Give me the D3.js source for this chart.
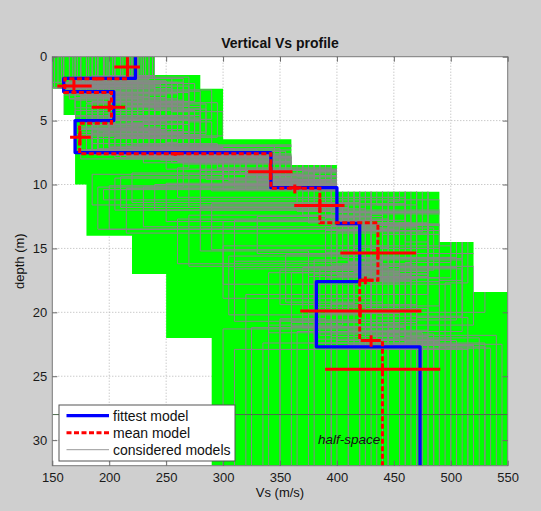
<!DOCTYPE html>
<html>
<head>
<meta charset="utf-8">
<script src="https://cdn.jsdelivr.net/npm/d3@7/dist/d3.min.js"></script>
<style>
  html, body { margin: 0; padding: 0; background: #cfcfcf; }
  svg { display: block; font-family: "Liberation Sans", Arial, Helvetica, sans-serif; }
</style>
</head>
<body>
<svg id="chart" width="541" height="511"></svg>
<script>
// ---- Axis ticks ----
const xTicks = [150, 200, 250, 300, 350, 400, 450, 500, 550];
const yTicks = [0, 5, 10, 15, 20, 25, 30];

// ---- Search bounds (green area): right and left edges as depth intervals ----
const boundRightTop = [0, 1.44, 2.5, 6.46, 8.47, 10.56, 14.5, 18.4];
const boundRightBot = [1.44, 2.5, 6.46, 8.47, 10.56, 14.5, 18.4, 32];
const boundRightVs  = [240, 280, 300, 360, 400, 490, 520, 550];
const boundLeftTop  = [0, 2.5, 4.57, 10.0, 14.0, 17.0, 22.0];
const boundLeftBot  = [2.5, 4.57, 10.0, 14.0, 17.0, 22.0, 32];
const boundLeftVs   = [150, 160, 170, 180, 220, 250, 290];

// ---- Considered models: layer Vs (m/s) and interface depths (m) ----
const consideredVs = [
  [205,175,230,185,300,390,430,410,455],
  [160,210,190,240,350,430,470,380,500],
  [230,165,250,210,280,210,410,305,420],
  [180,240,170,275,320,460,390,470,520],
  [220,190,280,200,370,400,450,350,470],
  [150,260,220,180,330,195,490,430,540],
  [195,170,210,230,390,420,300,500,310],
  [240,200,160,260,250,480,440,410,380],
  [170,220,240,190,360,240,500,300,430],
  [210,180,270,290,300,440,420,460,490],
  [185,275,200,175,340,410,270,520,445],
  [225,160,290,220,380,185,470,390,350],
  [160,230,180,250,290,470,400,450,530],
  [200,250,230,170,310,380,510,420,400],
  [235,195,170,280,360,450,430,340,475],
  [175,210,260,200,270,260,460,480,320],
  [215,170,200,265,395,420,390,400,510],
  [190,265,240,185,330,395,445,370,460],
  [150,185,220,230,350,220,420,530,390],
  [228,240,280,175,300,470,480,410,545],
  [165,200,250,210,320,430,500,460,480],
  [205,225,185,245,280,400,410,380,425],
  [238,175,215,270,370,200,455,440,505],
  [180,255,300,190,340,460,310,510,365],
  [200,165,225,220,310,375,440,430,455],
  [155,235,265,255,390,480,510,490,530],
  [220,190,195,180,300,280,425,355,440],
  [190,215,270,235,355,415,480,450,470],
  [210,170,205,200,330,390,415,420,300],
  [175,245,235,265,380,440,395,470,515],
  [158,205,245,215,345,425,465,395,485],
  [232,180,175,240,265,230,435,445,335],
  [185,230,285,195,375,405,280,375,410],
  [212,250,205,260,320,445,490,425,495],
  [168,190,260,185,360,205,405,505,350],
  [226,270,230,225,295,465,455,360,460],
  [198,165,190,280,385,390,260,465,525],
  [175,220,295,205,330,455,445,415,395],
  [240,185,215,250,355,250,420,480,445],
  [205,240,250,190,310,420,485,390,505],
  [190,175,225,275,395,370,430,455,375],
  [152,255,270,215,285,475,470,435,485],
  [218,200,185,230,365,410,400,310,420],
  [180,260,240,245,340,385,515,495,535],
  [235,170,210,185,315,440,415,405,340],
  [165,215,280,260,375,190,450,465,465],
  [210,235,200,200,300,460,290,425,480],
  [195,180,255,270,390,400,440,385,395],
  [225,265,195,180,330,430,500,450,520],
  [172,195,235,255,350,365,425,510,435],
  [238,225,265,195,280,415,465,400,500],
  [188,170,220,235,370,270,410,440,325],
  [203,245,180,265,305,375,480,420,470],
  [160,205,275,205,385,425,330,490,410],
  [216,180,200,225,340,470,445,375,490],
  [182,270,245,185,295,395,505,455,445],
  [230,190,230,250,360,215,435,415,515],
  [196,230,260,175,320,435,460,470,360],
  [170,175,190,270,380,405,425,395,455],
  [222,255,285,240,335,450,490,430,475]
];
const consideredDepth = [
  [1.8,3.1,5.4,7.6,9.8,12.6,16.2,21.4],
  [2.2,3.6,5.0,7.2,10.3,13.2,17.0,22.1],
  [1.6,2.9,5.8,8.0,9.4,11.8,15.6,20.2],
  [2.4,4.2,6.1,7.9,10.1,13.6,17.3,22.6],
  [1.7,2.7,4.8,7.0,9.0,12.2,16.7,19.4],
  [2.0,3.3,5.6,7.4,10.4,11.2,15.0,21.8],
  [1.9,4.0,6.3,8.3,9.6,12.9,17.8,22.9],
  [1.5,3.0,4.7,6.7,8.8,13.9,16.0,20.8],
  [2.3,3.8,5.3,7.7,10.0,12.0,14.8,18.9],
  [1.6,2.8,5.1,8.2,9.9,13.4,17.4,22.3],
  [2.1,3.5,5.9,7.5,10.2,12.4,16.4,21.0],
  [1.8,2.6,4.9,6.9,9.2,11.6,15.3,20.5],
  [2.5,4.4,6.2,8.1,10.5,13.7,17.1,22.4],
  [1.9,3.2,5.5,7.3,9.5,12.1,15.8,19.9],
  [1.7,3.4,4.6,7.8,10.0,13.0,16.9,21.6],
  [2.2,3.9,5.7,7.1,8.7,11.0,14.5,18.6],
  [1.6,2.9,5.2,8.4,10.3,13.3,17.6,22.8],
  [2.0,3.7,6.0,7.6,9.7,12.7,16.5,21.2],
  [2.4,3.1,5.4,7.4,9.1,11.4,15.4,20.0],
  [1.5,4.1,6.4,8.0,10.4,13.8,17.2,22.5],
  [1.8,3.0,5.0,7.7,9.3,12.3,16.1,21.9],
  [2.1,3.5,5.6,6.8,8.9,11.5,15.9,19.6],
  [1.7,2.8,5.3,7.9,10.1,13.5,17.7,22.2],
  [2.3,4.3,6.2,7.5,9.8,12.8,16.6,21.5],
  [1.9,3.3,4.8,7.2,10.2,12.5,16.0,20.9],
  [2.5,3.6,5.7,8.3,10.5,13.9,17.5,22.7],
  [1.6,2.7,5.1,7.3,9.4,11.9,15.5,19.2],
  [2.0,3.8,5.9,7.8,9.9,13.1,17.0,22.0],
  [1.8,3.2,5.4,7.6,9.6,12.6,16.8,21.3],
  [2.2,4.0,6.1,8.1,10.3,13.2,16.3,20.4],
  [2.0,3.4,5.2,7.0,9.7,12.2,16.4,21.7],
  [1.7,3.0,5.6,7.9,10.2,13.3,17.3,22.4],
  [2.3,3.7,5.9,7.3,9.0,11.7,15.2,19.8],
  [1.9,4.2,6.0,8.2,10.4,13.6,17.6,22.9],
  [2.1,2.9,4.9,7.6,9.5,12.0,15.7,20.6],
  [1.6,3.9,5.4,6.9,8.8,13.0,16.9,21.1],
  [2.4,3.3,5.0,8.0,10.1,12.7,16.2,22.0],
  [1.8,3.6,6.3,7.7,9.3,11.3,14.9,19.3],
  [1.5,2.8,5.5,7.4,9.9,12.9,17.0,21.4],
  [2.2,4.1,5.8,7.2,10.0,13.4,16.7,22.6],
  [1.9,3.0,4.7,8.3,10.5,12.4,15.6,20.1],
  [2.5,4.3,6.1,7.8,9.6,13.7,17.4,22.1],
  [1.7,3.5,5.3,7.0,9.4,11.9,16.0,20.7],
  [2.1,3.8,5.6,8.1,10.3,13.1,17.7,22.8],
  [1.6,2.7,5.0,7.5,9.1,12.3,16.3,21.0],
  [2.3,3.9,6.2,7.9,10.2,13.5,17.1,22.3],
  [1.8,3.2,5.4,7.1,8.9,11.5,15.1,19.7],
  [2.0,3.6,5.9,8.2,10.4,12.8,16.6,21.8],
  [1.7,4.0,5.1,7.3,9.8,13.2,17.3,22.5],
  [2.4,3.1,5.7,7.7,9.5,12.1,15.9,20.3],
  [1.5,3.4,6.0,7.4,10.1,13.6,17.5,22.2],
  [2.2,2.9,5.2,8.0,9.2,11.8,16.1,21.2],
  [1.9,3.7,4.8,7.2,9.7,13.0,16.8,22.7],
  [2.1,4.2,6.3,7.9,10.0,12.5,15.4,19.5],
  [1.8,3.0,5.5,7.6,9.9,13.3,17.2,22.4],
  [2.3,3.5,5.8,6.8,8.7,12.2,16.5,21.6],
  [1.6,3.3,5.1,7.8,10.3,13.8,17.6,22.9],
  [2.0,3.9,5.7,7.3,9.4,11.6,15.8,20.8],
  [2.5,3.1,4.9,8.2,10.1,12.9,16.9,21.9],
  [1.7,4.1,6.1,7.5,9.6,13.1,17.3,22.6]
];

// ---- Fittest model ----
const fittestVs    = [223, 160, 204, 170, 342, 400, 420, 382, 473];
const fittestDepth = [1.7, 2.74, 5.0, 7.5, 10.25, 13.05, 17.6, 22.7];

// ---- Mean model ----
const meanVs    = [216, 161, 202, 174, 342, 385, 436, 420, 440];
const meanDepth = [1.72, 2.8, 5.2, 7.6, 10.3, 13.0, 17.5, 22.2];

// ---- Mean model error crosses: centre Vs, centre depth, Vs range, depth range ----
const crossVs     = [216, 190, 169, 200, 174.3, 258, 341.5, 363, 385, 436, 425, 420.5, 430, 440];
const crossDepth  = [0.8, 1.72, 2.3, 3.95, 6.3, 7.6, 9.0, 10.25, 11.65, 15.35, 17.5, 19.9, 22.2, 24.45];
const crossVsLo   = [204.5, 186, 154.4, 184.6, 165.6, 254, 322, 358, 362.5, 403, 419, 367.8, 423.4, 389.7];
const crossVsHi   = [227, 194, 184.6, 214, 183.8, 262, 361, 369, 406.7, 469.5, 432, 474.2, 436.6, 490.8];
const crossDLo    = [0.25, 1.6, 1.8, 3.45, 5.8, 7.45, 8.35, 10.0, 11.1, 14.9, 17.2, 19.4, 21.8, 24.0];
const crossDHi    = [1.3, 1.85, 2.75, 4.3, 6.9, 7.75, 9.65, 10.7, 12.2, 15.8, 17.8, 20.4, 22.7, 24.9];

// ---- Half-space top and annotation ----
const halfSpaceDepth = 28;
const halfSpaceLabel = "half-space";
const halfSpaceLabelVs = 438;
const halfSpaceLabelDepth = 30.3;

const legendLabels = ["fittest model", "mean model", "considered models"];

// ---------------------------------------------------------------
const svg = d3.select("#chart");
const W = 541, H = 511;
const plot = { left: 52.3, right: 507.7, top: 56.7, bottom: 465.7 };

const x = d3.scaleLinear().domain([150, 550]).range([plot.left, plot.right]);
const y = d3.scaleLinear().domain([0, 32]).range([plot.top, plot.bottom]);

svg.append("rect").attr("width", W).attr("height", H).attr("fill", "#cfcfcf");

const defs = svg.append("defs");
defs.append("clipPath").attr("id", "plotClip")
  .append("rect")
  .attr("x", plot.left).attr("y", plot.top)
  .attr("width", plot.right - plot.left).attr("height", plot.bottom - plot.top);

// axes background
svg.append("rect")
  .attr("x", plot.left).attr("y", plot.top)
  .attr("width", plot.right - plot.left).attr("height", plot.bottom - plot.top)
  .attr("fill", "#ffffff");

// dotted grid
const grid = svg.append("g").attr("stroke", "#b4b4b4").attr("stroke-width", 1)
  .attr("stroke-dasharray", "1,2");
grid.selectAll("line.gx").data(xTicks.slice(1, -1)).join("line")
  .attr("x1", d => x(d)).attr("x2", d => x(d))
  .attr("y1", plot.top).attr("y2", plot.bottom);
grid.selectAll("line.gy").data(yTicks.slice(1)).join("line")
  .attr("x1", plot.left).attr("x2", plot.right)
  .attr("y1", d => y(d)).attr("y2", d => y(d));

const body = svg.append("g").attr("clip-path", "url(#plotClip)");

// search-bound polygon
const boundPts = [];
boundRightVs.forEach((v, i) => {
  boundPts.push([x(v), y(boundRightTop[i])]);
  boundPts.push([x(v), y(boundRightBot[i])]);
});
for (let i = boundLeftVs.length - 1; i >= 0; i--) {
  boundPts.push([x(boundLeftVs[i]), y(boundLeftBot[i])]);
  boundPts.push([x(boundLeftVs[i]), y(boundLeftTop[i])]);
}
const boundPath = d3.line()(boundPts) + "Z";
body.append("path").attr("d", boundPath).attr("fill", "#00ff00");
defs.append("clipPath").attr("id", "boundClip").append("path").attr("d", boundPath);

// step profile builder
function profilePoints(vs, depth) {
  const pts = [];
  vs.forEach((v, i) => {
    const top = i === 0 ? 0 : depth[i - 1];
    const bot = i < depth.length ? depth[i] : 32;
    pts.push([x(v), y(top)]);
    pts.push([x(v), y(bot)]);
  });
  return pts;
}
const line = d3.line();

// considered models, kept inside the search bounds
body.append("g").attr("clip-path", "url(#boundClip)")
  .selectAll("path").data(consideredVs).join("path")
  .attr("d", (v, i) => line(profilePoints(v, consideredDepth[i])))
  .attr("fill", "none").attr("stroke", "#888888").attr("stroke-width", 1);

// half-space top
body.append("line")
  .attr("x1", x(150)).attr("x2", x(550))
  .attr("y1", y(halfSpaceDepth)).attr("y2", y(halfSpaceDepth))
  .attr("stroke", "#4d6b4d").attr("stroke-width", 1);

// fittest model
body.append("path")
  .attr("d", line(profilePoints(fittestVs, fittestDepth)))
  .attr("fill", "none").attr("stroke", "#0000ff").attr("stroke-width", 3.3)
  .attr("stroke-linejoin", "round");

// mean model
body.append("path")
  .attr("d", line(profilePoints(meanVs, meanDepth)))
  .attr("fill", "none").attr("stroke", "#ff0000").attr("stroke-width", 3)
  .attr("stroke-dasharray", "5,2.5");

// error crosses
const crosses = body.append("g").attr("stroke", "#ff0000").attr("stroke-width", 3);
crossVs.forEach((v, i) => {
  crosses.append("line")
    .attr("x1", x(crossVsLo[i])).attr("x2", x(crossVsHi[i]))
    .attr("y1", y(crossDepth[i])).attr("y2", y(crossDepth[i]));
  crosses.append("line")
    .attr("x1", x(v)).attr("x2", x(v))
    .attr("y1", y(crossDLo[i])).attr("y2", y(crossDHi[i]));
});

// half-space annotation
svg.append("text")
  .attr("x", x(halfSpaceLabelVs)).attr("y", y(halfSpaceLabelDepth))
  .attr("text-anchor", "end").attr("font-style", "italic")
  .attr("font-size", 13.5).attr("fill", "#111")
  .text(halfSpaceLabel);

// axes box
svg.append("rect")
  .attr("x", plot.left).attr("y", plot.top)
  .attr("width", plot.right - plot.left).attr("height", plot.bottom - plot.top)
  .attr("fill", "none").attr("stroke", "#7a7a7a").attr("stroke-width", 1);

function styleAxis(g) {
  g.select(".domain").remove();
  g.selectAll(".tick line").attr("stroke", "#6a6a6a");
  g.selectAll(".tick text").attr("fill", "#1a1a1a").attr("font-size", 13);
  g.attr("font-family", null);
}

svg.append("g").attr("transform", `translate(0,${plot.bottom})`)
  .call(d3.axisBottom(x).tickValues(xTicks).tickSize(-5).tickPadding(7))
  .call(styleAxis);
svg.append("g").attr("transform", `translate(0,${plot.top})`)
  .call(d3.axisTop(x).tickValues(xTicks).tickSize(-5).tickFormat(""))
  .call(styleAxis);
svg.append("g").attr("transform", `translate(${plot.left},0)`)
  .call(d3.axisLeft(y).tickValues(yTicks).tickSize(-5).tickPadding(5))
  .call(styleAxis);
svg.append("g").attr("transform", `translate(${plot.right},0)`)
  .call(d3.axisRight(y).tickValues(yTicks).tickSize(-5).tickFormat(""))
  .call(styleAxis);

// title and axis labels
svg.append("text")
  .attr("x", (plot.left + plot.right) / 2).attr("y", 48)
  .attr("text-anchor", "middle").attr("font-weight", "bold")
  .attr("font-size", 14).attr("fill", "#111")
  .text("Vertical Vs profile");
svg.append("text")
  .attr("x", (plot.left + plot.right) / 2).attr("y", 497)
  .attr("text-anchor", "middle").attr("font-size", 13).attr("fill", "#111")
  .text("Vs (m/s)");
svg.append("text")
  .attr("transform", `translate(24,${(plot.top + plot.bottom) / 2}) rotate(-90)`)
  .attr("text-anchor", "middle").attr("font-size", 13).attr("fill", "#111")
  .text("depth (m)");

// legend
const lg = svg.append("g");
lg.append("rect")
  .attr("x", 59).attr("y", 405).attr("width", 176).attr("height", 56)
  .attr("fill", "#ffffff").attr("stroke", "#555").attr("stroke-width", 1);
const legendStyles = [
  { stroke: "#0000ff", width: 3.3, dash: null },
  { stroke: "#ff0000", width: 3, dash: "5,2.5" },
  { stroke: "#999999", width: 1, dash: null }
];
const rowY = [415.7, 432.7, 449.7];
legendLabels.forEach((lab, i) => {
  lg.append("line")
    .attr("x1", 66.5).attr("x2", 109).attr("y1", rowY[i]).attr("y2", rowY[i])
    .attr("stroke", legendStyles[i].stroke).attr("stroke-width", legendStyles[i].width)
    .attr("stroke-dasharray", legendStyles[i].dash);
  lg.append("text")
    .attr("x", 113).attr("y", rowY[i]).attr("dy", "0.35em")
    .attr("font-size", 14).attr("fill", "#111")
    .text(lab);
});
</script>
</body>
</html>
